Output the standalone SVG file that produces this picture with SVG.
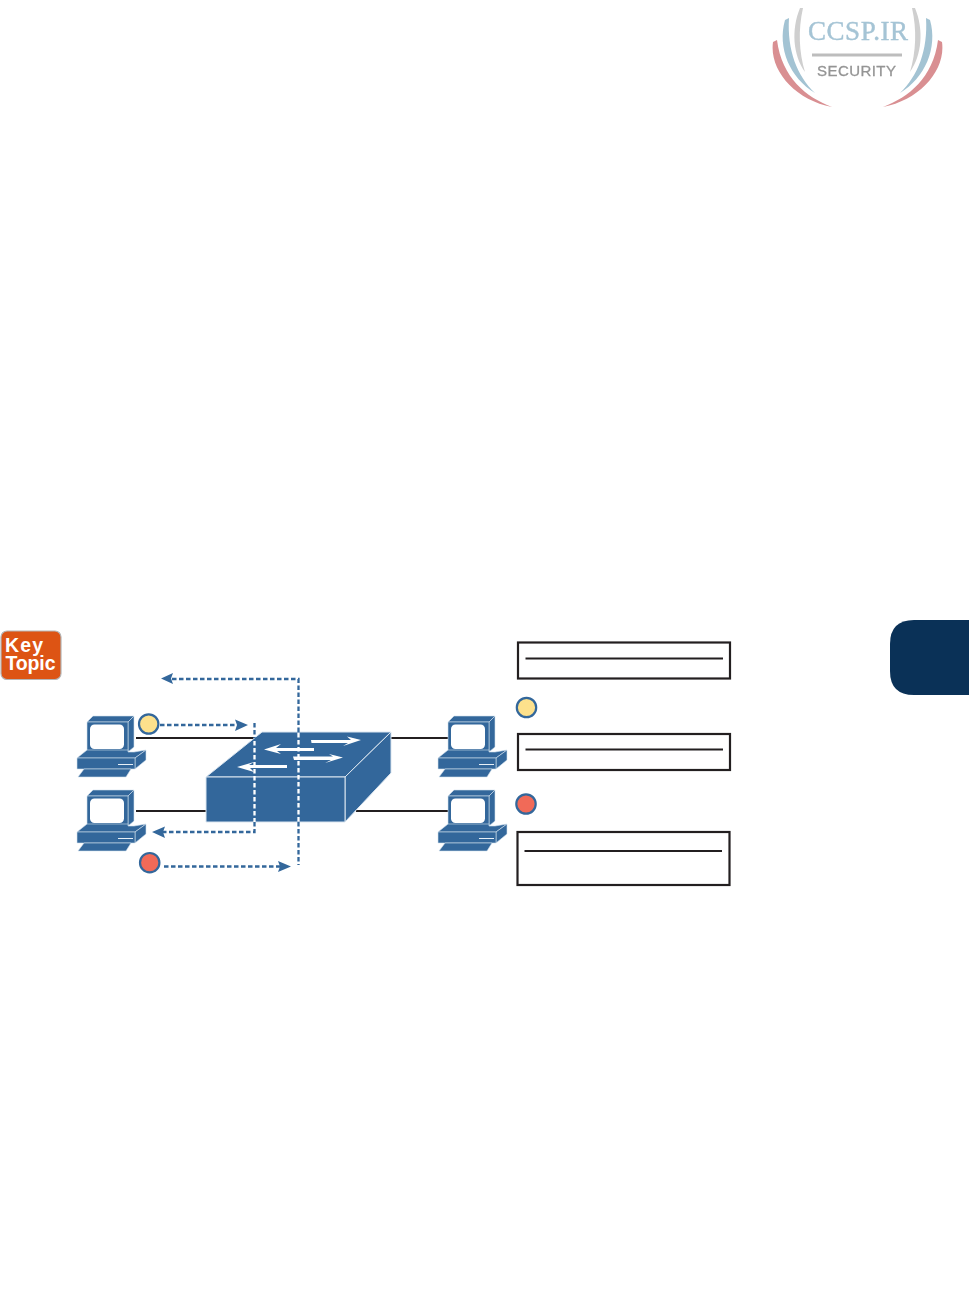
<svg xmlns="http://www.w3.org/2000/svg" width="969" height="1314" viewBox="0 0 969 1314">
<style>
.b{fill:#33679b;stroke:#d5e2ee;stroke-width:.6;stroke-linejoin:round}
.sw{fill:#33679b;stroke:#dbe6f0;stroke-width:1;stroke-linejoin:round}
.wire{stroke:#231f20;stroke-width:2.200;fill:none}
.dash{stroke:#33679b;stroke-width:2.300;stroke-dasharray:4.500 2.500;fill:none}
.dashw{stroke:#fff;stroke-width:2.300;stroke-dasharray:4.500 2.500;fill:none}
.head{fill:#33679b}
.box{fill:#fff;stroke:#231f20;stroke-width:2.200}
.rule{stroke:#231f20;stroke-width:2.200;fill:none}
.ye{fill:#fde18c;stroke:#33679b;stroke-width:2.200}
.re{fill:#f16a58;stroke:#33679b;stroke-width:2.200}
.wa{fill:#fff}
.kt{font-family:"Liberation Sans",Arial,sans-serif;font-weight:700;font-size:19.500px;fill:#fff}
</style>
<defs>
<filter id="soft" x="-5%" y="-5%" width="110%" height="110%"><feGaussianBlur stdDeviation="0.5"/></filter>
<g id="pc">
<path class="b" d="M87,722 L93,716 H134 L128,722Z"/>
<path class="b" d="M128,722 L134,716 V747 L128,752Z"/>
<rect class="b" x="87" y="722" width="41" height="30"/>
<rect x="90" y="724.500" width="34" height="24.500" rx="4.500" fill="#fff"/>
<path class="b" d="M77,758 L87,750 H128 V752 H134 L146,750 L135,758Z"/>
<path class="b" d="M135,758 L146,750 V760 L135,769Z"/>
<rect class="b" x="77" y="758" width="58" height="11"/>
<path stroke="#e8f0f6" stroke-width="1" d="M118,764.500 H133"/>
<path class="b" d="M78,777 L84,769 H131 L126,777Z"/>
</g>
</defs>
<g id="logo" filter="url(#soft)">
<path fill="#d98f92" d="M773,42 C769,70 795,100 832,107 C806,97 782,78 777,40Z"/>
<path fill="#d98f92" d="M942,42 C946,70 920,100 883,107 C909,97 933,78 938,40Z"/>
<path fill="#a3c3d3" d="M785,20 C777,48 790,78 815,93 C797,76 787,50 789,18Z"/>
<path fill="#a3c3d3" d="M930,20 C938,48 925,78 900,93 C918,76 928,50 926,18Z"/>
<path fill="#cfcfcf" d="M800,8 C791,30 793,55 805,72 C799,52 798,30 803,8Z"/>
<path fill="#cfcfcf" d="M915,8 C924,30 922,55 910,72 C916,52 917,30 912,8Z"/>
<text x="808" y="40" font-family="'Liberation Serif',serif" font-size="27" fill="#a5c4d5" stroke="#a5c4d5" stroke-width=".4" textLength="100">CCSP.IR</text>
<path stroke="#bdbdbd" stroke-width="3" d="M812,55 H902"/>
<text x="817" y="75.500" font-family="'Liberation Sans',sans-serif" font-size="15" fill="#949494" stroke="#949494" stroke-width=".3" textLength="79">SECURITY</text>
</g>
<path id="tab" fill="#0a3157" d="M969,620 H914 Q890,620 890,644 V671 Q890,695 914,695 H969Z"/>
<g id="key-topic">
<rect x="1" y="631" width="60" height="48.500" rx="6" fill="#dd5414" stroke="#b5b5b5" stroke-width="1.200"/>
<text class="kt" x="5" y="652" textLength="38">Key</text>
<text class="kt" x="5.500" y="670" textLength="50">Topic</text>
</g>
<g id="connectors">
<path class="wire" d="M136,738 H256"/>
<path class="wire" d="M136,811 H206"/>
<path class="wire" d="M390,738 H449"/>
<path class="wire" d="M356,811 H449"/>
</g>
<g id="pc-1"><use href="#pc"/></g>
<g id="pc-2"><use href="#pc" y="74"/></g>
<g id="pc-3"><use href="#pc" x="361"/></g>
<g id="pc-4"><use href="#pc" x="361" y="74"/></g>
<g id="switch">
<path class="sw" d="M206,777 L262,732 H391 L345,777Z"/>
<path class="sw" d="M345,777 L391,732 V773 L345,822Z"/>
<rect class="sw" x="206" y="777" width="139" height="45"/>
<path class="wa" d="M311,740 H351 L347,736.500 L361,740 L343,746 L348,743 H311.500Z"/>
<path class="wa" d="M264,749.500 L281,744 L276,748 H314 V751 H277 L281,754Z"/>
<path class="wa" d="M293,756.500 H333 L329,754 L343,757.500 L325,763 L331,760 H294Z"/>
<path class="wa" d="M237,767 L254,762 L249,765 H287 V768 H250 L254,772Z"/>
</g>
<g id="flows">
<path class="dash" d="M160,725 H240"/>
<path class="head" d="M248,725 L235,719.500 L237,725 L235,731Z"/>
<path class="dash" d="M254.500,723 V738"/>
<path class="dashw" d="M254.500,741 V822"/>
<path class="dash" d="M254.500,822 V832 H160"/>
<path class="head" d="M152,832 L165,826.500 L163,832 L165,838Z"/>
<path class="dash" d="M298.500,732 V679 H170"/>
<path class="head" d="M161,678.500 L173,673 L171,678.500 L173,684Z"/>
<path class="dashw" d="M298.500,733 V822"/>
<path class="dash" d="M298.500,822 V865"/>
<path class="dash" d="M164,866.500 H284"/>
<path class="head" d="M291,866.500 L278,861 L280,866.500 L278,872Z"/>
<circle class="ye" cx="148.700" cy="724" r="9.700"/>
<circle class="re" cx="149.700" cy="862.700" r="9.700"/>
</g>
<g id="panel-1"><rect class="box" x="518" y="642.500" width="212" height="36"/><path class="rule" d="M525.500,658.500 H723"/></g>
<g id="panel-2"><rect class="box" x="518" y="734" width="212" height="36"/><path class="rule" d="M525.500,749.500 H723"/></g>
<g id="panel-3"><rect class="box" x="517.500" y="832" width="212" height="53"/><path class="rule" d="M524.500,851 H722"/></g>
<circle id="mark-yellow" class="ye" cx="526.500" cy="707.500" r="9.700"/>
<circle id="mark-red" class="re" cx="526" cy="804" r="9.700"/>
</svg>
